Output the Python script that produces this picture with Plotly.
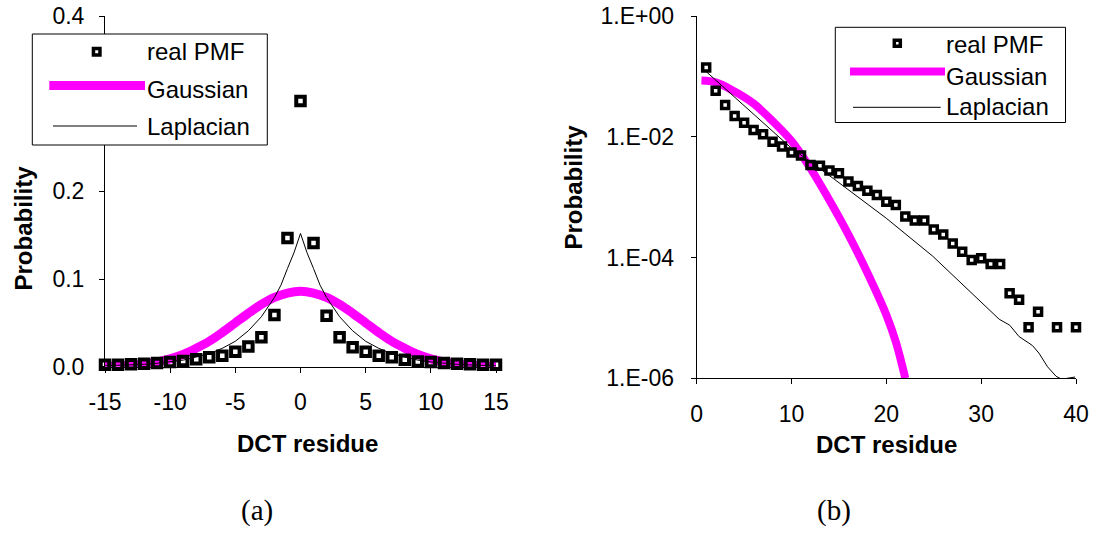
import plotly.graph_objects as go

W, H = 1095, 533

# ---------------- data ----------------
# (a) linear plot
pmf_x = list(range(-15, 16))
pmf_a = [0.0023, 0.0023, 0.0027, 0.0034, 0.0042, 0.0053, 0.0065, 0.0084, 0.0107, 0.0126,
         0.0171, 0.0229, 0.0336, 0.059, 0.1467, 0.303, 0.141, 0.058, 0.0336, 0.0221,
         0.0171, 0.0126, 0.0107, 0.0080, 0.0060, 0.0053, 0.0042, 0.0034, 0.0027, 0.0023, 0.0023]
gauss_a_x = list(range(-15, 16))
gauss_a = [0.0004, 0.0009, 0.0017, 0.0032, 0.0055, 0.009, 0.014, 0.021, 0.029, 0.039,
           0.050, 0.061, 0.071, 0.079, 0.084, 0.086, 0.084, 0.079, 0.071, 0.061,
           0.050, 0.039, 0.029, 0.021, 0.014, 0.009, 0.0055, 0.0032, 0.0017, 0.0009, 0.0004]
lap_a_x = [-15, -14, -13, -12, -11, -10, -9, -8, -7, -6, -5, -4, -3, -2, -1.5, -1, -0.5, 0,
           0.5, 1, 1.5, 2, 3, 4, 5, 6, 7, 8, 9, 10, 11, 12, 13, 14, 15]
lap_a = [0.001, 0.0014, 0.002, 0.0028, 0.0039, 0.0054, 0.0075, 0.011, 0.015, 0.021, 0.029,
         0.041, 0.057, 0.079, 0.093, 0.112, 0.13, 0.152,
         0.13, 0.112, 0.093, 0.079, 0.057, 0.041, 0.029, 0.021, 0.015, 0.011, 0.0075,
         0.0054, 0.0039, 0.0028, 0.002, 0.0014, 0.001]

# (b) log plot
pmf_b_x = [1, 2, 3, 4, 5, 6, 7, 8, 9, 10, 11, 12, 13, 14, 15, 16, 17, 18, 19, 20,
           21, 22, 23, 24, 25, 26, 27, 28, 29, 30, 31, 32, 33, 34, 35, 36, 38, 40]
pmf_b = [0.14, 0.058, 0.0336, 0.0221, 0.0171, 0.013, 0.011, 0.0083, 0.0069, 0.0055,
         0.0049, 0.0034, 0.0033, 0.00275, 0.00248, 0.00181, 0.00153, 0.00128, 0.00109, 0.00084,
         0.00074, 0.00048, 0.00041, 0.00041, 0.00029, 0.00024, 0.00017, 0.000125, 0.000091, 0.000097,
         0.000078, 0.000078, 0.0000257, 0.00002, 0.000007, 0.0000127, 0.000007, 0.000007]
gauss_b_x = [0.5, 2, 4, 6, 8, 10, 12, 14, 16, 18, 20, 21, 22]
gauss_b = [0.0851, 0.0794, 0.0562, 0.0355, 0.0182, 0.0085, 0.0030, 0.00089, 0.00024,
           0.000056, 0.0000112, 0.000004, 0.000001]
lap_b_x = [1, 10, 14.4, 20, 24.9, 29.8, 31.9, 33, 34, 35.4, 36.1, 37, 37.9, 38.4, 38.9, 39.9]
lap_b = [0.12, 0.00646, 0.00204, 0.000447, 0.000105, 0.00002, 0.0000095, 0.0000076,
         0.0000049, 0.0000035, 0.0000026, 0.00000155, 0.00000108, 0.00000098, 0.00000099, 0.00000105]

xticks_a = [-15, -10, -5, 0, 5, 10, 15]
xticktext_a = ["-15", "-10", "-5", "0", "5", "10", "15"]
yticks_a = [0.0, 0.1, 0.2, 0.3, 0.4]
xticks_b = [0, 10, 20, 30, 40]
yticks_b = [1, 1e-2, 1e-4, 1e-6]
yticktext_b = ["1.E+00", "1.E-02", "1.E-04", "1.E-06"]

# ---------------- figure ----------------
MAG = "#FF00FF"
FONT = "Liberation Sans"

def px(x):
    return x / W

def py(y):
    return 1 - y / H

fig = go.Figure()

# (a)
fig.add_trace(go.Scatter(x=gauss_a_x, y=gauss_a, mode="lines", line=dict(color=MAG, width=9, shape="spline"),
                         name="Gaussian", xaxis="x", yaxis="y", showlegend=False))
fig.add_trace(go.Scatter(x=lap_a_x, y=lap_a, mode="lines", line=dict(color="black", width=1),
                         name="Laplacian", xaxis="x", yaxis="y", showlegend=False))
fig.add_trace(go.Scatter(x=pmf_x, y=pmf_a, mode="markers", cliponaxis=False,
                         marker=dict(symbol="square-open", size=8.5, color="black", line=dict(width=4, color="black")),
                         name="real PMF", xaxis="x", yaxis="y", showlegend=False))
# (b)
fig.add_trace(go.Scatter(x=gauss_b_x, y=gauss_b, mode="lines", line=dict(color=MAG, width=8, shape="spline"),
                         name="Gaussian", xaxis="x2", yaxis="y2", showlegend=False))
fig.add_trace(go.Scatter(x=lap_b_x, y=lap_b, mode="lines", line=dict(color="black", width=1),
                         name="Laplacian", xaxis="x2", yaxis="y2", showlegend=False))
fig.add_trace(go.Scatter(x=pmf_b_x, y=pmf_b, mode="markers", cliponaxis=False,
                         marker=dict(symbol="square-open", size=7, color="black", line=dict(width=3.5, color="black")),
                         name="real PMF", xaxis="x2", yaxis="y2", showlegend=False))

axis_common = dict(showline=True, linecolor="black", linewidth=1, ticks="outside", ticklen=5,
                   tickwidth=1, tickcolor="black", showgrid=False, zeroline=False, automargin=False,
                   tickfont=dict(family=FONT, size=23, color="black"))

fig.update_layout(
    width=W, height=H, margin=dict(l=0, r=0, t=0, b=0, pad=0, autoexpand=False),
    paper_bgcolor="white", plot_bgcolor="white", showlegend=False, hovermode=False,
    xaxis=dict(domain=[px(105), px(496)], range=[-15, 15], tickvals=xticks_a, ticktext=xticktext_a,
               anchor="y", ticklabelstandoff=10, **axis_common),
    yaxis=dict(domain=[py(366.7), py(16)], range=[0, 0.4], tickvals=yticks_a, tickformat=".1f",
               anchor="x", ticklabelstandoff=10, **axis_common),
    xaxis2=dict(domain=[px(696.7), px(1076)], range=[0, 40], tickvals=xticks_b, anchor="y2",
                ticklabelstandoff=10, **axis_common),
    yaxis2=dict(domain=[py(378.3), py(16)], type="log", range=[-6, 0], tickvals=yticks_b,
                ticktext=yticktext_b, anchor="x2", ticklabelstandoff=12, **axis_common),
)

shapes = []
annotations = []

def legend(box, marker_c, gauss_seg, lap_seg, text_x, text_ys, gwidth, msize):
    x0, x1, y0, y1 = box
    shapes.append(dict(type="rect", xref="paper", yref="paper", x0=px(x0), x1=px(x1), y0=py(y1), y1=py(y0),
                       fillcolor="white", line=dict(color="black", width=1), layer="above"))
    mx, my = marker_c
    shapes.append(dict(type="rect", xref="paper", yref="paper", x0=px(mx - msize / 2), x1=px(mx + msize / 2),
                       y0=py(my + msize / 2), y1=py(my - msize / 2), fillcolor="white",
                       line=dict(color="black", width=3.5), layer="above"))
    gx0, gx1, gy = gauss_seg
    shapes.append(dict(type="line", xref="paper", yref="paper", x0=px(gx0), x1=px(gx1), y0=py(gy), y1=py(gy),
                       line=dict(color=MAG, width=gwidth), layer="above"))
    lx0, lx1, ly = lap_seg
    shapes.append(dict(type="line", xref="paper", yref="paper", x0=px(lx0), x1=px(lx1), y0=py(ly), y1=py(ly),
                       line=dict(color="black", width=1), layer="above"))
    for t, ty in zip(["real PMF", "Gaussian", "Laplacian"], text_ys):
        annotations.append(dict(text=t, xref="paper", yref="paper", x=px(text_x), y=py(ty), xanchor="left",
                                yanchor="middle", showarrow=False,
                                font=dict(family=FONT, size=24, color="black")))

legend((32.3, 267.3, 34, 145), (96.7, 51.7), (49.3, 145, 85.5), (53, 137, 126), 145, (52, 89, 126), 9, 6.5)
legend((835.3, 1065.5, 27.3, 122.5), (897.3, 43.3), (850, 945, 71.5), (853, 940.7, 107.3), 944, (45, 76.7, 106.7), 8, 6)

def label(text, x, y, angle=0, bold=True, size=24, family=FONT):
    annotations.append(dict(text=f"<b>{text}</b>" if bold else text, xref="paper", yref="paper",
                            x=px(x), y=py(y), xanchor="center", yanchor="middle", showarrow=False,
                            textangle=angle, font=dict(family=family, size=size, color="black")))

label("DCT residue", 308, 443)
label("DCT residue", 886.5, 444)
label("Probability", 22.5, 228, angle=-90)
label("Probability", 572.5, 187, angle=-90)
label("(a)", 257, 511, bold=False, size=29, family="Liberation Serif")
label("(b)", 834, 511, bold=False, size=29, family="Liberation Serif")

fig.update_layout(shapes=shapes, annotations=annotations)
# remove the default page margin so the figure sits at the window's top-left corner
fig.write_html("out.html", config={"displayModeBar": False, "staticPlot": True},
               post_script="document.body.style.margin='0px';")
